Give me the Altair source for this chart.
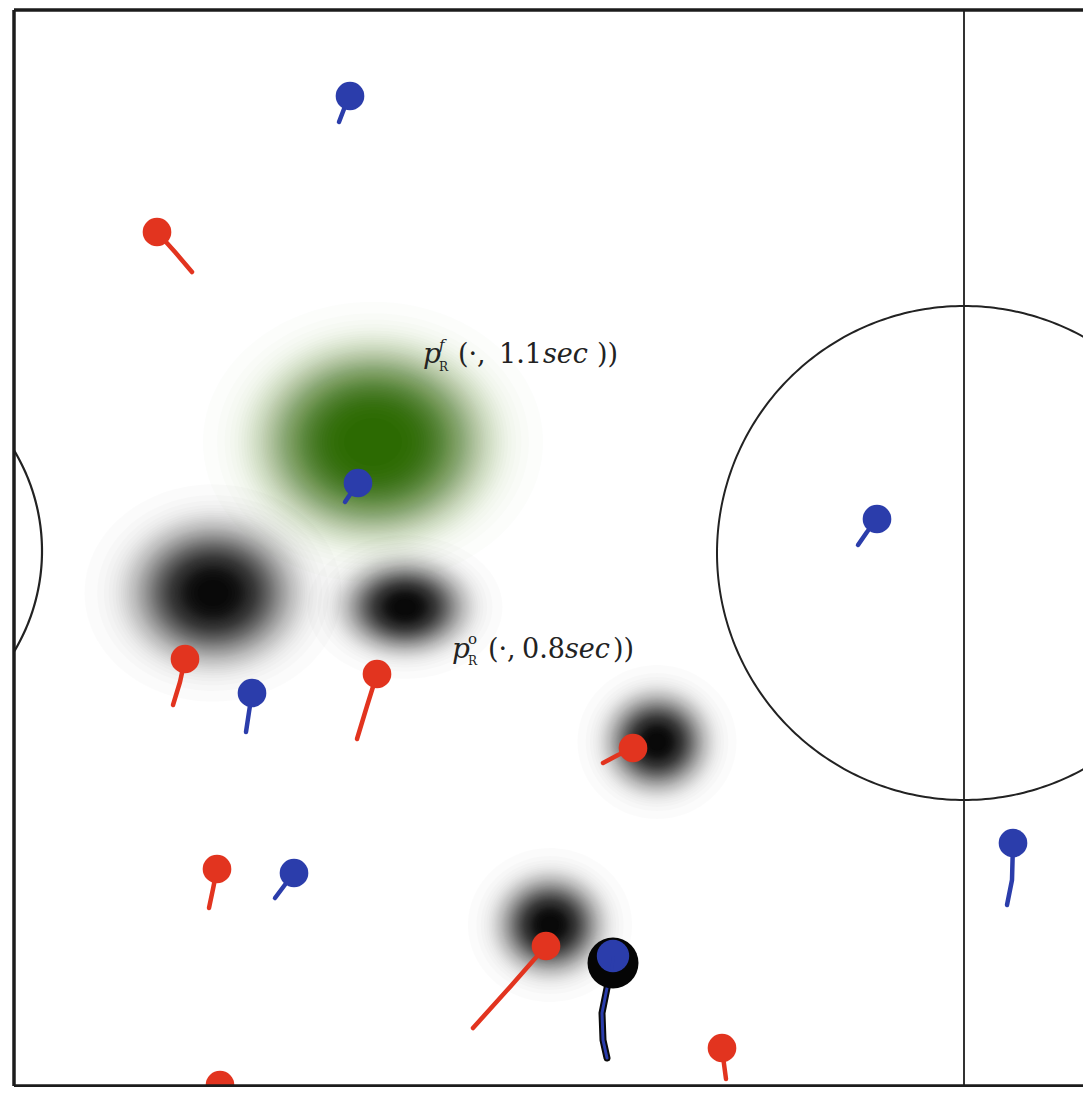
import altair as alt
import numpy as np
import pandas as pd

# ---------------- pitch frame (pitch units, y grows downward) ----------------
X_MIN, X_MAX = 14, 1083
Y_MIN, Y_MAX = 10, 1087
FRAME_BOTTOM = 1086
HALFWAY_X = 964
CENTRE = (964, 553)
CENTRE_R = 247
ARC_CENTRE = (-153, 551)
ARC_R = 195

# ---------------- players ----------------
red_x = [157, 185, 377, 633, 217, 546, 722, 220]
red_y = [232, 659, 674, 748, 869, 946, 1048, 1085]
red_trail_x = [[157, 175, 192], [185, 180, 173], [377, 367, 357], [633, 618, 603],
               [217, 213, 209], [546, 510, 473], [722, 724, 726], [220, 220, 220]]
red_trail_y = [[232, 252, 272], [659, 682, 705], [674, 706, 739], [748, 755, 763],
               [869, 889, 908], [946, 987, 1028], [1048, 1064, 1079], [1085, 1085, 1085]]

blue_x = [350, 358, 877, 252, 294, 1013]
blue_y = [96, 483, 519, 693, 873, 843]
blue_trail_x = [[350, 344, 339], [358, 351, 345], [877, 867, 858], [252, 249, 246],
                [294, 284, 275], [1013, 1012, 1007]]
blue_trail_y = [[96, 109, 122], [483, 493, 502], [519, 532, 545], [693, 712, 732],
                [873, 886, 898], [843, 880, 905]]

# ball carrier (blue with black ring)
carrier_x, carrier_y = 613, 956
ring_x, ring_y = 613, 963
carrier_trail_x = [612, 607, 602, 603, 607]
carrier_trail_y = [970, 988, 1013, 1040, 1058]

# ---------------- density blobs ----------------
blob_cx = [373, 213, 405, 657, 550]
blob_cy = [442, 593, 607, 742, 925]
blob_sx = [80, 52, 38, 31, 32]
blob_sy = [66, 44, 28, 30, 30]
blob_pow = [3, 2.5, 2.4, 2.4, 2.4]
blob_color = ["#2b6a00", "#080808", "#080808", "#080808", "#080808"]

# ---------------- labels ----------------
lab_text = ["p", "f", "R", "(·,", "1.1", "sec", "))",
            "p", "o", "R", "(·,", "0.8", "sec", "))"]
lab_x = [423, 439, 439, 458, 499, 543, 597,
         452, 468, 468, 488, 522, 565, 613]
lab_y = [363, 350, 371, 363, 363, 363, 363,
         658, 644, 665, 658, 658, 658, 658]
lab_size = [28, 15, 12, 27, 27, 27, 27,
            28, 15, 12, 27, 27, 27, 27]
lab_style = ["italic", "italic", "normal", "normal", "normal", "italic", "normal",
             "italic", "normal", "normal", "normal", "normal", "italic", "normal"]

RED = "#e2341f"
BLUE = "#2b3dab"

xs = alt.Scale(domain=[X_MIN, X_MAX], nice=False, zero=False)
ys = alt.Scale(domain=[Y_MIN, Y_MAX], nice=False, zero=False, reverse=True)
X = lambda f="x": alt.X(f"{f}:Q", scale=xs, axis=None)
Y = lambda f="y": alt.Y(f"{f}:Q", scale=ys, axis=None)

# pitch lines --------------------------------------------------------------
frame = pd.DataFrame({
    "x": [X_MIN, X_MIN, X_MIN], "x2": [X_MIN, X_MAX + 10, X_MAX + 10],
    "y": [Y_MIN, Y_MIN, FRAME_BOTTOM], "y2": [FRAME_BOTTOM, Y_MIN, FRAME_BOTTOM],
})
frame_layer = alt.Chart(frame).mark_rule(color="#1c1c1c", strokeWidth=3.5, clip=False).encode(
    x=X(), x2="x2:Q", y=Y(), y2="y2:Q")

halfway = pd.DataFrame({"x": [HALFWAY_X], "y": [Y_MIN], "y2": [FRAME_BOTTOM]})
halfway_layer = alt.Chart(halfway).mark_rule(color="#333333", strokeWidth=2).encode(
    x=X(), y=Y(), y2="y2:Q")

ang = np.linspace(0, 2 * np.pi, 361)
circ = pd.DataFrame({"x": CENTRE[0] + CENTRE_R * np.cos(ang),
                     "y": CENTRE[1] + CENTRE_R * np.sin(ang), "i": np.arange(len(ang))})
circle_layer = alt.Chart(circ).mark_line(color="#222222", strokeWidth=2, clip=True).encode(
    x=X(), y=Y(), order="i:Q")

ang2 = np.linspace(-0.6, 0.6, 121)
arc = pd.DataFrame({"x": ARC_CENTRE[0] + ARC_R * np.cos(ang2),
                    "y": ARC_CENTRE[1] + ARC_R * np.sin(ang2), "i": np.arange(len(ang2))})
arc_layer = alt.Chart(arc).mark_line(color="#222222", strokeWidth=2.2, clip=True).encode(
    x=X(), y=Y(), order="i:Q")

# blobs rendered as stacked translucent ellipses ----------------------------
N = 60
rows = []
for b in range(len(blob_cx)):
    ratio = blob_sy[b] / blob_sx[b]
    path = f"M-1,0A1,{ratio:.4f},0,1,1,1,0A1,{ratio:.4f},0,1,1,-1,0Z"
    levels = [0.985 * n / N for n in range(N + 1)]
    for n in range(1, N + 1):
        t = (levels[n - 1] + levels[n]) / 2
        f = (2 * np.log(1 / t)) ** (1 / blob_pow[b])
        op = 1 - (1 - levels[n]) / (1 - levels[n - 1])
        rows.append({"x": blob_cx[b], "y": blob_cy[b], "size": (2 * blob_sx[b] * f) ** 2,
                     "shape": path, "op": op, "color": blob_color[b], "k": b * 100 + n})
blobs = pd.DataFrame(rows)
blob_layer = alt.Chart(blobs).mark_point(filled=True, strokeWidth=0).encode(
    x=X(), y=Y(),
    size=alt.Size("size:Q", scale=None, legend=None),
    shape=alt.Shape("shape:N", scale=None, legend=None),
    opacity=alt.Opacity("op:Q", scale=None, legend=None),
    color=alt.Color("color:N", scale=None, legend=None),
    order="k:Q",
)

# trails -------------------------------------------------------------------
trows = []
for i in range(len(red_x)):
    for j, (tx, ty) in enumerate(zip(red_trail_x[i], red_trail_y[i])):
        trows.append({"id": f"r{i}", "x": tx, "y": ty, "i": j, "color": RED})
for i in range(len(blue_x)):
    for j, (tx, ty) in enumerate(zip(blue_trail_x[i], blue_trail_y[i])):
        trows.append({"id": f"b{i}", "x": tx, "y": ty, "i": j, "color": BLUE})
trails = pd.DataFrame(trows)
trail_layer = alt.Chart(trails).mark_line(strokeWidth=4.5, strokeCap="round", strokeJoin="round").encode(
    x=X(), y=Y(), detail="id:N", order="i:Q", color=alt.Color("color:N", scale=None, legend=None))

ctrail = pd.DataFrame({"x": carrier_trail_x, "y": carrier_trail_y, "i": range(len(carrier_trail_x))})
ctrail_black = alt.Chart(ctrail).mark_line(color="#0a0a0a", strokeWidth=7, strokeCap="round").encode(
    x=X(), y=Y(), order="i:Q")
ctrail_blue = alt.Chart(ctrail).mark_line(color=BLUE, strokeWidth=3, strokeCap="round").encode(
    x=X(), y=Y(), order="i:Q")

# dots ---------------------------------------------------------------------
dots = pd.DataFrame({
    "x": red_x + blue_x, "y": red_y + blue_y,
    "color": [RED] * len(red_x) + [BLUE] * len(blue_x),
})
dot_layer = alt.Chart(dots).mark_circle(size=820, opacity=1).encode(
    x=X(), y=Y(), color=alt.Color("color:N", scale=None, legend=None))

ring = pd.DataFrame({"x": [ring_x], "y": [ring_y]})
ring_layer = alt.Chart(ring).mark_circle(size=2600, opacity=1, color="#050505").encode(x=X(), y=Y())
carrier = pd.DataFrame({"x": [carrier_x], "y": [carrier_y]})
carrier_layer = alt.Chart(carrier).mark_circle(size=1050, opacity=1, color=BLUE).encode(x=X(), y=Y())
carrier_stem = pd.DataFrame({"x": [carrier_x, carrier_trail_x[0]], "y": [carrier_y, carrier_trail_y[0]], "i": [0, 1]})
carrier_stem_layer = alt.Chart(carrier_stem).mark_line(color=BLUE, strokeWidth=3).encode(
    x=X(), y=Y(), order="i:Q")

# labels -------------------------------------------------------------------
labels = pd.DataFrame({"x": lab_x, "y": lab_y, "text": lab_text, "size": lab_size, "style": lab_style})
label_layers = []
for style in ["normal", "italic"]:
    sub = labels[labels["style"] == style]
    label_layers.append(
        alt.Chart(sub).mark_text(align="left", baseline="alphabetic", font="DejaVu Serif",
                                 fontStyle=style, color="#222222").encode(
            x=X(), y=Y(), text="text:N", size=alt.Size("size:Q", scale=None, legend=None))
    )

chart = alt.layer(
    halfway_layer, circle_layer, arc_layer, blob_layer,
    trail_layer, ctrail_black, ctrail_blue, dot_layer, ring_layer, carrier_layer, carrier_stem_layer,
    *label_layers, frame_layer,
).properties(
    width=X_MAX - X_MIN, height=Y_MAX - Y_MIN,
    autosize=alt.AutoSizeParams(type="none"),
    padding={"left": 6, "top": 2, "right": 0, "bottom": 0},
    background="white",
).configure_view(strokeWidth=0)

chart.save("out.html", embed_options={"renderer": "svg", "actions": False})
